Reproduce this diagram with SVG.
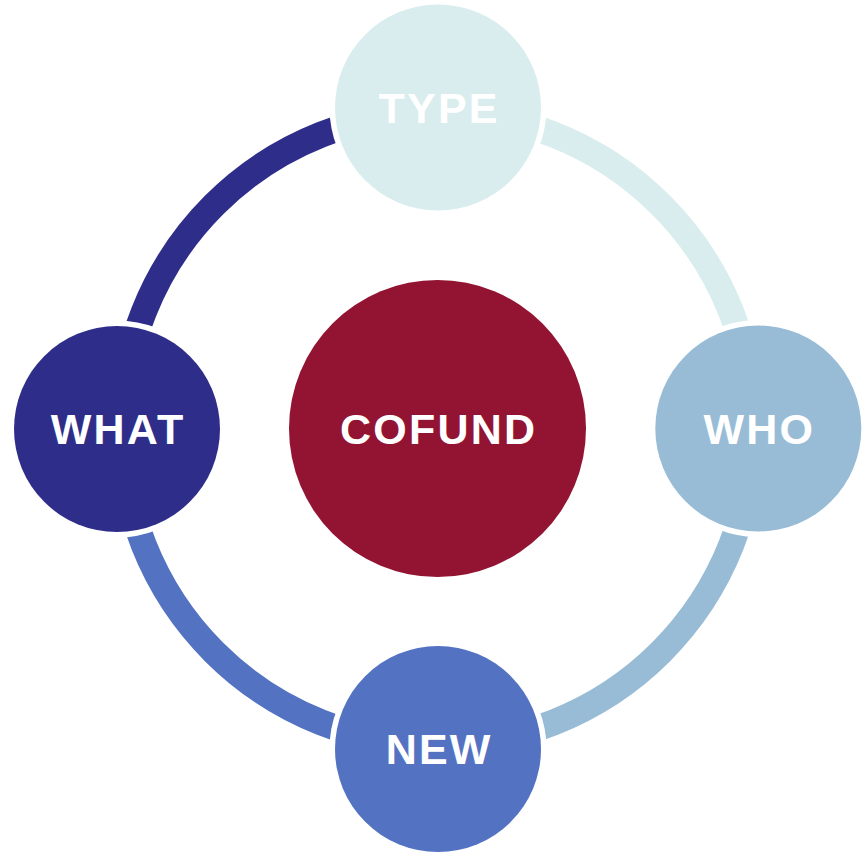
<svg xmlns="http://www.w3.org/2000/svg" width="864" height="854" viewBox="0 0 864 854">
<style>
.arc{fill:none;stroke-width:26}
.node{stroke:#ffffff;stroke-width:11;paint-order:stroke}
.lbl{font-family:"Liberation Sans",Arial,sans-serif;font-weight:bold;font-size:43px;fill:#ffffff;text-anchor:middle;letter-spacing:2.2px}
</style>
<rect width="864" height="854" fill="#ffffff"/>
<g id="connectors">
<path class="arc" stroke="#d9edee" d="M437.5,112.5 A316,316 0 0 1 753.5,428.5"/>
<path class="arc" stroke="#98bcd6" d="M753.5,428.5 A316,316 0 0 1 437.5,744.5"/>
<path class="arc" stroke="#5373c2" d="M437.5,744.5 A316,316 0 0 1 121.5,428.5"/>
<path class="arc" stroke="#2e2e8a" d="M121.5,428.5 A316,316 0 0 1 437.5,112.5"/>
</g>
<g id="cofund">
<circle cx="437.5" cy="428.5" r="148.5" fill="#931332"/>
<text class="lbl" x="438.6" y="444">COFUND</text>
</g>
<g id="type">
<circle class="node" cx="438" cy="107.5" r="103" fill="#d9edee"/>
<text class="lbl" x="439.1" y="123">TYPE</text>
</g>
<g id="who">
<circle class="node" cx="758.3" cy="428.5" r="103" fill="#98bcd6"/>
<text class="lbl" x="759.4" y="444">WHO</text>
</g>
<g id="new">
<circle class="node" cx="438" cy="749" r="103" fill="#5373c2"/>
<text class="lbl" x="439.1" y="764">NEW</text>
</g>
<g id="what">
<circle class="node" cx="117" cy="429" r="103" fill="#2e2e8a"/>
<text class="lbl" x="118.1" y="444">WHAT</text>
</g>
</svg>
